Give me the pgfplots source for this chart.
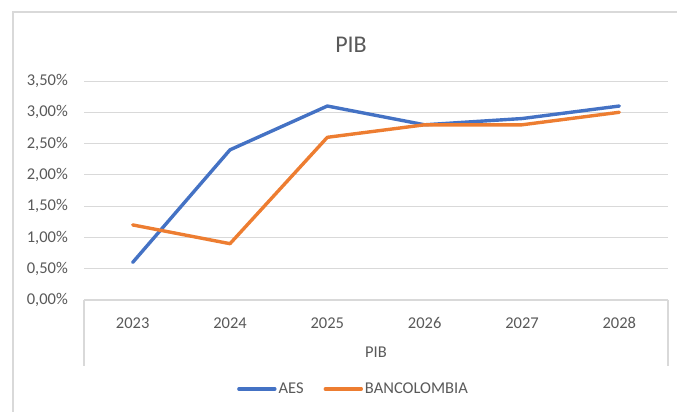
\documentclass[border=0pt]{standalone}
\usepackage{fontspec}
\setmainfont{Carlito}
\usepackage{pgfplots}
\pgfplotsset{compat=1.18}
\definecolor{aes}{HTML}{4472C4}
\definecolor{banc}{HTML}{ED7D31}
\definecolor{txt}{HTML}{595959}
\definecolor{grd}{HTML}{D9D9D9}
\begin{document}
\begin{tikzpicture}[x=1pt,y=1pt]
\useasboundingbox (0,0) rectangle (677,412);
\draw[grd, line width=1.2pt] (13,0) -- (13,400) -- (677,400);
\node[txt, font=\fontsize{24}{28}\selectfont, inner sep=0pt] at (351,367) {PIB};
\begin{axis}[
  at={(84pt,112pt)}, anchor=south west,
  scale only axis, width=584pt, height=219pt,
  clip=false,
  xmin=-0.5, xmax=5.5, ymin=0, ymax=3.5,
  xtick={0,1,2,3,4,5},
  xticklabels={2023,2024,2025,2026,2027,2028},
  ytick={0,0.5,1,1.5,2,2.5,3,3.5},
  /pgf/number format/assume math mode=true,
  yticklabel={\pgfmathprintnumber[fixed,fixed zerofill,precision=2,use comma]{\tick}\%},
  major tick length=0pt,
  axis line style={draw=none},
  ymajorgrids, major grid style={grd, line width=0.9pt},
  yticklabel style={font=\fontsize{16.5}{19}\selectfont, text=txt, anchor=east, inner sep=0pt, xshift=-16pt},
  xticklabel style={font=\fontsize{16.5}{19}\selectfont, text=txt, anchor=center, inner sep=0pt, yshift=-23pt},
  xlabel={PIB},
  xlabel style={at={(axis description cs:0.5,0)}, anchor=center, yshift=-52pt, inner sep=0pt, font=\fontsize{16.5}{19}\selectfont, text=txt},
  legend columns=2,
  legend style={at={(axis description cs:0.4615,-0.406)}, anchor=center, draw=none, fill=none,
    font=\fontsize{16.5}{19}\selectfont, text=txt, inner sep=0pt,
    /tikz/every even column/.append style={column sep=18pt}},
  legend image code/.code={\draw[#1, line cap=round] (0pt,0pt) -- (36pt,0pt);},
]
\addplot[aes, line width=3.4pt, line join=round, line cap=round] coordinates {(0,0.6) (1,2.4) (2,3.1) (3,2.8) (4,2.9) (5,3.1)};
\addlegendentry{AES}
\addplot[banc, line width=3.4pt, line join=round, line cap=round] coordinates {(0,1.2) (1,0.9) (2,2.6) (3,2.8) (4,2.8) (5,3.0)};
\addlegendentry{BANCOLOMBIA}
\draw[grd, line width=1.2pt] (rel axis cs:0,0) -- (rel axis cs:1,0);
\draw[grd, line width=1.2pt] (rel axis cs:0,0) -- ++(0pt,-66pt);
\draw[grd, line width=1.2pt] (rel axis cs:1,0) -- ++(0pt,-66pt);
\end{axis}
\end{tikzpicture}
\end{document}
